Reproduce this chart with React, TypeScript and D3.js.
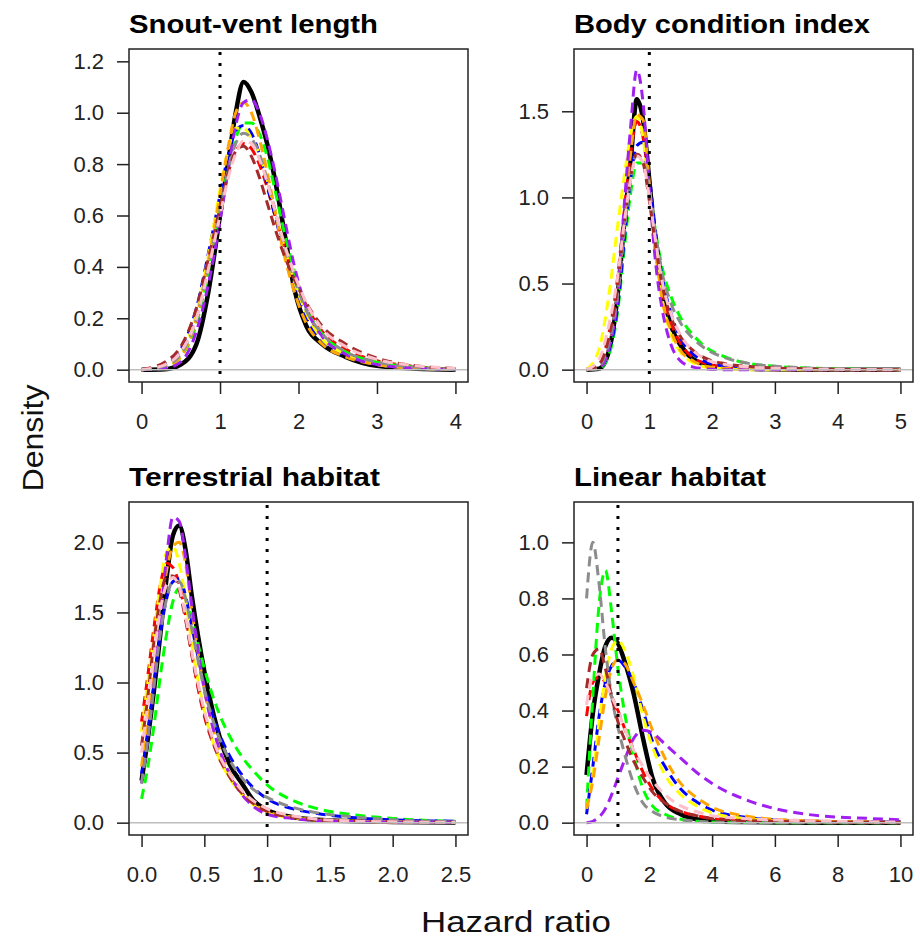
import React, { useEffect, useRef } from 'react';
import * as d3 from 'd3';

// series drawn in every panel (black = full model, colours = alternative runs)
const seriesNames = ['black', 'red', 'green', 'blue', 'yellow', 'orange', 'purple', 'gray', 'brown', 'pink'];
const seriesColors: Record<string, string> = {
  black: '#000000',
  red: '#FF0000',
  green: '#00FF00',
  blue: '#0000FF',
  yellow: '#FFFF00',
  orange: '#FFA500',
  purple: '#A020F0',
  gray: '#8C8C8C',
  brown: '#A52A2A',
  pink: '#FFC0CB',
};

// Snout-vent length
const svlX = [0, 0.3, 0.5, 0.7, 0.85, 1.0, 1.1, 1.2, 1.3, 1.4, 1.5, 1.6, 1.7, 1.8, 1.95, 2.1, 2.3, 2.6, 3.0, 3.5, 4.0];
const svlCurves: Record<string, number[]> = {
  black: [0, 0.002, 0.02, 0.1, 0.3, 0.6, 0.8, 1.0, 1.12, 1.08, 0.99, 0.88, 0.74, 0.57, 0.31, 0.17, 0.1, 0.05, 0.015, 0.004, 0],
  purple: [0, 0.005, 0.03, 0.15, 0.33, 0.58, 0.77, 0.95, 1.04, 1.05, 1.0, 0.9, 0.77, 0.62, 0.4, 0.24, 0.13, 0.06, 0.02, 0.006, 0],
  orange: [0, 0.01, 0.05, 0.2, 0.42, 0.68, 0.86, 1.0, 1.04, 1.0, 0.9, 0.77, 0.62, 0.47, 0.3, 0.18, 0.1, 0.05, 0.02, 0.006, 0],
  green: [0, 0.01, 0.05, 0.18, 0.38, 0.62, 0.78, 0.9, 0.96, 0.96, 0.92, 0.83, 0.7, 0.56, 0.38, 0.24, 0.14, 0.07, 0.03, 0.01, 0],
  blue: [0, 0.02, 0.08, 0.24, 0.45, 0.68, 0.83, 0.93, 0.95, 0.92, 0.84, 0.72, 0.6, 0.48, 0.32, 0.2, 0.11, 0.055, 0.02, 0.006, 0],
  yellow: [0, 0.01, 0.06, 0.22, 0.44, 0.7, 0.85, 0.94, 0.94, 0.9, 0.84, 0.74, 0.62, 0.5, 0.34, 0.22, 0.12, 0.06, 0.02, 0.006, 0],
  gray: [0, 0.015, 0.06, 0.2, 0.4, 0.62, 0.77, 0.88, 0.92, 0.9, 0.84, 0.74, 0.62, 0.5, 0.35, 0.23, 0.14, 0.07, 0.03, 0.01, 0],
  red: [0, 0.02, 0.07, 0.21, 0.4, 0.62, 0.76, 0.85, 0.88, 0.86, 0.8, 0.71, 0.6, 0.5, 0.36, 0.25, 0.15, 0.08, 0.035, 0.012, 0],
  pink: [0, 0.02, 0.07, 0.2, 0.39, 0.6, 0.74, 0.84, 0.89, 0.88, 0.82, 0.73, 0.62, 0.51, 0.37, 0.26, 0.16, 0.09, 0.04, 0.015, 0.005],
  brown: [0, 0.03, 0.09, 0.24, 0.43, 0.63, 0.76, 0.85, 0.87, 0.83, 0.75, 0.65, 0.55, 0.46, 0.35, 0.26, 0.17, 0.1, 0.045, 0.015, 0.005],
};

// Body condition index
const bciX = [0, 0.2, 0.35, 0.5, 0.6, 0.7, 0.8, 0.9, 1.0, 1.1, 1.2, 1.35, 1.5, 1.7, 1.9, 2.2, 2.6, 3.0, 3.5, 4.0, 5.0];
const bciCurves: Record<string, number[]> = {
  black: [0, 0.005, 0.1, 0.45, 0.85, 1.2, 1.57, 1.45, 1.1, 0.72, 0.48, 0.25, 0.14, 0.06, 0.03, 0.012, 0.005, 0.002, 0, 0, 0],
  purple: [0, 0.01, 0.12, 0.45, 0.95, 1.4, 1.74, 1.55, 1.05, 0.62, 0.36, 0.14, 0.05, 0.015, 0.005, 0, 0, 0, 0, 0, 0],
  yellow: [0, 0.12, 0.42, 0.85, 1.12, 1.36, 1.47, 1.35, 1.0, 0.68, 0.42, 0.2, 0.1, 0.04, 0.015, 0.005, 0, 0, 0, 0, 0],
  orange: [0, 0.01, 0.12, 0.45, 0.85, 1.25, 1.48, 1.45, 1.08, 0.7, 0.42, 0.22, 0.11, 0.05, 0.02, 0.008, 0.003, 0, 0, 0, 0],
  red: [0, 0.03, 0.2, 0.55, 0.92, 1.25, 1.44, 1.35, 1.05, 0.72, 0.47, 0.27, 0.15, 0.07, 0.035, 0.015, 0.006, 0.002, 0, 0, 0],
  blue: [0, 0.01, 0.1, 0.38, 0.75, 1.1, 1.3, 1.32, 1.12, 0.8, 0.55, 0.32, 0.18, 0.09, 0.045, 0.02, 0.008, 0.003, 0, 0, 0],
  gray: [0, 0.02, 0.15, 0.45, 0.8, 1.1, 1.25, 1.22, 1.02, 0.78, 0.57, 0.38, 0.27, 0.18, 0.12, 0.07, 0.035, 0.02, 0.01, 0.005, 0],
  green: [0, 0.005, 0.08, 0.35, 0.7, 1.02, 1.2, 1.2, 1.05, 0.8, 0.6, 0.42, 0.3, 0.2, 0.13, 0.075, 0.035, 0.02, 0.01, 0.005, 0],
  pink: [0, 0.06, 0.25, 0.55, 0.85, 1.1, 1.24, 1.2, 1.0, 0.75, 0.52, 0.32, 0.2, 0.11, 0.06, 0.03, 0.015, 0.008, 0.004, 0.002, 0],
  brown: [0, 0.03, 0.18, 0.5, 0.85, 1.12, 1.25, 1.2, 0.98, 0.72, 0.5, 0.3, 0.19, 0.11, 0.065, 0.035, 0.018, 0.01, 0.005, 0.002, 0],
};

// Terrestrial habitat
const terX = [0, 0.05, 0.1, 0.15, 0.2, 0.25, 0.3, 0.35, 0.4, 0.5, 0.6, 0.7, 0.8, 0.9, 1.0, 1.2, 1.4, 1.7, 2.0, 2.5];
const terCurves: Record<string, number[]> = {
  black: [0.3, 0.6, 0.95, 1.35, 1.75, 2.05, 2.12, 1.95, 1.62, 1.08, 0.68, 0.42, 0.28, 0.15, 0.09, 0.04, 0.02, 0.01, 0.005, 0.002],
  purple: [0.28, 0.6, 1.0, 1.45, 1.9, 2.18, 2.15, 1.9, 1.55, 0.95, 0.58, 0.35, 0.2, 0.11, 0.06, 0.03, 0.015, 0.008, 0.004, 0.002],
  yellow: [0.65, 1.0, 1.35, 1.7, 1.93, 1.97, 1.85, 1.6, 1.28, 0.8, 0.5, 0.32, 0.2, 0.12, 0.07, 0.035, 0.018, 0.01, 0.005, 0.002],
  red: [0.72, 1.05, 1.4, 1.7, 1.85, 1.82, 1.7, 1.48, 1.2, 0.76, 0.5, 0.33, 0.21, 0.13, 0.08, 0.04, 0.02, 0.01, 0.005, 0.002],
  orange: [0.4, 0.75, 1.1, 1.5, 1.8, 1.97, 2.0, 1.85, 1.52, 0.95, 0.58, 0.36, 0.22, 0.13, 0.08, 0.04, 0.02, 0.01, 0.005, 0.002],
  brown: [0.55, 0.9, 1.3, 1.6, 1.76, 1.76, 1.66, 1.45, 1.2, 0.78, 0.5, 0.33, 0.21, 0.13, 0.08, 0.04, 0.02, 0.01, 0.005, 0.002],
  pink: [0.5, 0.85, 1.2, 1.52, 1.7, 1.75, 1.68, 1.48, 1.22, 0.8, 0.52, 0.35, 0.23, 0.15, 0.1, 0.05, 0.025, 0.012, 0.006, 0.002],
  gray: [0.28, 0.6, 0.98, 1.35, 1.6, 1.72, 1.72, 1.6, 1.38, 0.95, 0.65, 0.45, 0.32, 0.23, 0.18, 0.11, 0.07, 0.04, 0.02, 0.008],
  blue: [0.35, 0.65, 1.0, 1.35, 1.6, 1.72, 1.74, 1.62, 1.4, 0.98, 0.68, 0.48, 0.34, 0.24, 0.17, 0.1, 0.065, 0.035, 0.02, 0.01],
  green: [0.17, 0.4, 0.7, 1.05, 1.35, 1.58, 1.67, 1.6, 1.45, 1.1, 0.82, 0.62, 0.47, 0.36, 0.27, 0.16, 0.1, 0.055, 0.03, 0.01],
};

// Linear habitat
const linX = [0, 0.2, 0.4, 0.6, 0.8, 1.0, 1.2, 1.5, 1.8, 2.1, 2.5, 3.0, 3.5, 4.0, 5.0, 6.0, 7.0, 8.0, 9.0, 10.0];
const linCurves: Record<string, number[]> = {
  black: [0.17, 0.39, 0.53, 0.63, 0.66, 0.64, 0.58, 0.46, 0.3, 0.16, 0.07, 0.03, 0.012, 0.005, 0.002, 0.001, 0, 0, 0, 0],
  gray: [0.8, 1.0, 0.85, 0.62, 0.45, 0.34, 0.25, 0.14, 0.07, 0.04, 0.02, 0.01, 0.005, 0.002, 0.001, 0, 0, 0, 0, 0],
  green: [0.05, 0.45, 0.78, 0.9, 0.75, 0.55, 0.4, 0.24, 0.12, 0.06, 0.03, 0.012, 0.005, 0.002, 0.001, 0, 0, 0, 0, 0],
  brown: [0.48, 0.6, 0.62, 0.55, 0.45, 0.36, 0.3, 0.22, 0.16, 0.11, 0.07, 0.04, 0.025, 0.015, 0.008, 0.005, 0.003, 0.002, 0.001, 0],
  red: [0.38, 0.5, 0.52, 0.5, 0.45, 0.4, 0.34, 0.26, 0.18, 0.12, 0.07, 0.04, 0.025, 0.015, 0.01, 0.007, 0.005, 0.004, 0.003, 0.002],
  pink: [0.42, 0.52, 0.53, 0.5, 0.45, 0.4, 0.34, 0.26, 0.2, 0.15, 0.1, 0.06, 0.04, 0.025, 0.015, 0.01, 0.007, 0.005, 0.003, 0.002],
  yellow: [0.05, 0.17, 0.36, 0.52, 0.62, 0.65, 0.62, 0.52, 0.38, 0.27, 0.17, 0.1, 0.06, 0.035, 0.015, 0.008, 0.005, 0.003, 0.002, 0.001],
  orange: [0.05, 0.15, 0.3, 0.45, 0.55, 0.58, 0.57, 0.5, 0.42, 0.33, 0.23, 0.14, 0.09, 0.055, 0.025, 0.012, 0.007, 0.004, 0.002, 0.001],
  blue: [0.03, 0.2, 0.38, 0.5, 0.56, 0.58, 0.56, 0.5, 0.4, 0.29, 0.2, 0.12, 0.075, 0.045, 0.02, 0.01, 0.006, 0.004, 0.003, 0.002],
  purple: [0, 0.005, 0.02, 0.05, 0.1, 0.16, 0.22, 0.3, 0.33, 0.32, 0.28, 0.23, 0.18, 0.14, 0.085, 0.05, 0.03, 0.02, 0.015, 0.01],
};

const panelTitles = ['Snout-vent length', 'Body condition index', 'Terrestrial habitat', 'Linear habitat'];
const titleWidths = [249, 296, 251, 192];
const xTickSets = [[0, 1, 2, 3, 4], [0, 1, 2, 3, 4, 5], [0, 0.5, 1, 1.5, 2, 2.5], [0, 2, 4, 6, 8, 10]];
const yTickSets = [[0, 0.2, 0.4, 0.6, 0.8, 1.0, 1.2], [0, 0.5, 1.0, 1.5], [0, 0.5, 1.0, 1.5, 2.0], [0, 0.2, 0.4, 0.6, 0.8, 1.0]];
const xLims = [[0, 4], [0, 5], [0, 2.5], [0, 10]];
const yLims = [[0, 1.2], [0, 1.79], [0, 2.2], [0, 1.1]];
const xFormats = ['d', 'd', '.1f', 'd'];
const refLine = 1; // hazard ratio of 1

const W = 920;
const H = 941;
const FONT = "'Liberation Sans', Arial, Helvetica, sans-serif";

export default function App() {
  const ref = useRef<SVGSVGElement>(null);

  useEffect(() => {
    const svg = d3.select(ref.current);
    svg.selectAll('*').remove();

    const boxW = 339, boxH = 333;
    const lefts = [129, 574, 129, 574];
    const tops = [49, 49, 502, 502];
    const grids = [svlX, bciX, terX, linX];
    const curves = [svlCurves, bciCurves, terCurves, linCurves];

    for (let p = 0; p < 4; p++) {
      const L = lefts[p], T = tops[p];
      const [x0, x1] = xLims[p];
      const [y0, y1] = yLims[p];
      const dx = (x1 - x0) * 0.04, dy = (y1 - y0) * 0.04;
      const x = d3.scaleLinear().domain([x0 - dx, x1 + dx]).range([L, L + boxW]);
      const y = d3.scaleLinear().domain([y0 - dy, y1 + dy]).range([T + boxH, T]);

      const g = svg.append('g');
      const clipId = 'clip' + p;
      g.append('clipPath').attr('id', clipId)
        .append('rect').attr('x', L).attr('y', T).attr('width', boxW).attr('height', boxH);

      const xs = grids[p];
      const line = d3.line<number>()
        .x((d, i) => x(xs[i]))
        .y(d => y(d))
        .curve(d3.curveMonotoneX);

      const plot = g.append('g').attr('clip-path', `url(#${clipId})`);

      // full model first, then the dashed runs
      seriesNames.forEach(name => {
        const vals = curves[p][name];
        const isBlack = name === 'black';
        plot.append('path')
          .attr('d', line(vals))
          .attr('fill', 'none')
          .attr('stroke', seriesColors[name])
          .attr('stroke-width', isBlack ? 4.5 : 3)
          .attr('stroke-dasharray', isBlack ? null : '10,6')
          .attr('stroke-linejoin', 'round');
      });

      // reference line at HR = 1
      plot.append('line')
        .attr('x1', x(refLine)).attr('x2', x(refLine))
        .attr('y1', T + 3).attr('y2', T + boxH)
        .attr('stroke', '#000').attr('stroke-width', 3)
        .attr('stroke-dasharray', '3,8');

      // zero line
      plot.append('line')
        .attr('x1', L).attr('x2', L + boxW)
        .attr('y1', y(0)).attr('y2', y(0))
        .attr('stroke', '#BEBEBE').attr('stroke-width', 1.5);

      g.append('rect')
        .attr('x', L).attr('y', T).attr('width', boxW).attr('height', boxH)
        .attr('fill', 'none').attr('stroke', '#222').attr('stroke-width', 1.5);

      const xAxis = g.append('g')
        .attr('transform', `translate(0,${T + boxH})`)
        .call(d3.axisBottom(x).tickValues(xTickSets[p]).tickSize(12).tickPadding(19)
          .tickFormat(d3.format(xFormats[p]) as any));
      const yAxis = g.append('g')
        .attr('transform', `translate(${L},0)`)
        .call(d3.axisLeft(y).tickValues(yTickSets[p]).tickSize(12).tickPadding(13)
          .tickFormat(d3.format('.1f') as any));

      [xAxis, yAxis].forEach(a => {
        a.select('.domain').remove();
        a.attr('font-size', 22).attr('font-family', FONT).attr('color', '#222');
        a.selectAll('line').attr('stroke-width', 1.5);
        a.selectAll('text').attr('fill', '#222');
      });

      g.append('text')
        .attr('x', L)
        .attr('y', T - 16)
        .attr('font-family', FONT)
        .attr('font-weight', 'bold')
        .attr('font-size', 26)
        .attr('textLength', titleWidths[p])
        .attr('lengthAdjust', 'spacingAndGlyphs')
        .text(panelTitles[p]);
    }

    svg.append('text')
      .attr('transform', 'translate(43,438) rotate(-90)')
      .attr('text-anchor', 'middle')
      .attr('font-family', FONT)
      .attr('font-size', 29)
      .attr('fill', '#111')
      .attr('textLength', 107)
      .attr('lengthAdjust', 'spacingAndGlyphs')
      .text('Density');

    svg.append('text')
      .attr('x', 516)
      .attr('y', 932)
      .attr('text-anchor', 'middle')
      .attr('font-family', FONT)
      .attr('font-size', 29)
      .attr('fill', '#111')
      .attr('textLength', 190)
      .attr('lengthAdjust', 'spacingAndGlyphs')
      .text('Hazard ratio');
  }, []);

  return (
    <svg
      ref={ref}
      width={W}
      height={H}
      style={{ position: 'absolute', left: 0, top: 0, background: '#fff' }}
    />
  );
}
